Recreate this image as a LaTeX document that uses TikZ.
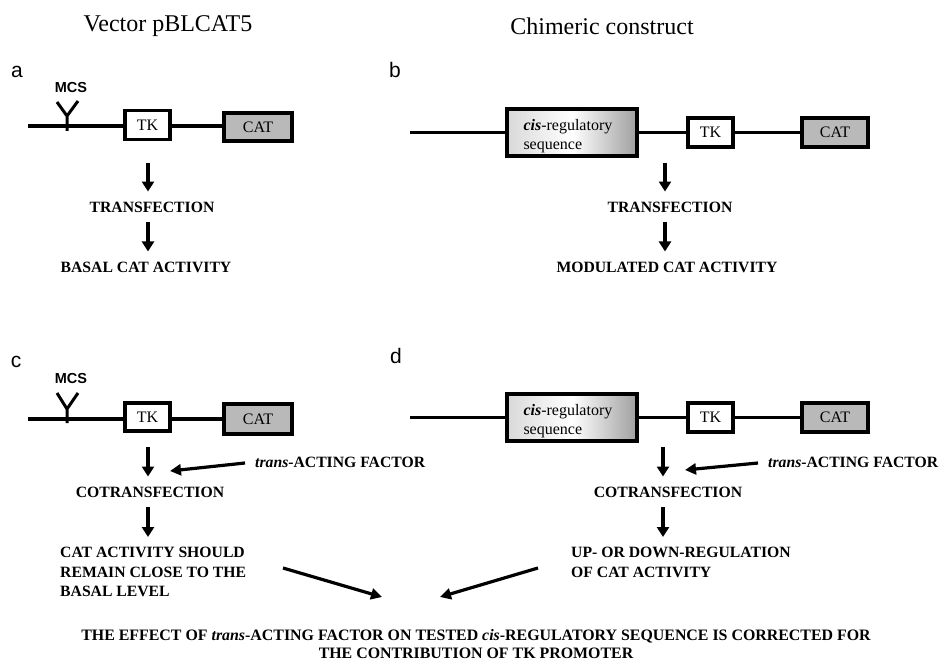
\documentclass[tikz,border=0pt]{standalone}
\usepackage{fontspec}
\setmainfont{Liberation Serif}
\newfontfamily\labfont{Liberation Sans}
\usetikzlibrary{positioning, arrows.meta}

\begin{document}
\begin{tikzpicture}[x=1pt, y=-1pt,
  gene/.style={draw, line width=3.4pt, inner sep=0pt, font=\fontsize{16}{18}\selectfont},
  cisbox/.style={gene, left color=gray!30, right color=gray!75, middle color=white, minimum width=130pt, minimum height=47pt},
  cistxt/.style={inner sep=0pt, anchor=west, align=left, font=\fontsize{16}{19}\selectfont},
  txt/.style={inner sep=4pt, font=\fontsize{15.7}{19.5}\selectfont\bfseries},
  flow/.style={-{Triangle[width=12pt, length=10pt]}, line width=3.4pt, shorten <=6pt, shorten >=6pt},
  slant/.style={-{Triangle[width=11pt, length=11pt]}, line width=3.2pt},
  dna/.style={line width=3.6pt},
  panel/.style={font=\fontsize{21}{21}\selectfont\labfont},
  mcs/.style={font=\fontsize{14.5}{14.5}\selectfont\labfont\bfseries}]
\useasboundingbox (0,0) rectangle (943,660);

% headings
\node[font=\fontsize{24}{24}\selectfont] (hleft) at (168,26) {Vector pBLCAT5};
\node[font=\fontsize{24}{24}\selectfont] (hright) at (602,26) {Chimeric construct};

% panel a
\node[panel] (la) at (17,72) {a};
\node[mcs] (mcsa) at (71,88) {MCS};
\coordinate (sa) at (28,126);
\node[gene, minimum width=45pt, minimum height=29pt] (tka) at (147.5,125) {TK};
\node[gene, fill=gray!55, minimum width=68pt, minimum height=28pt] (cata) at (258,127) {CAT};
\draw[dna] (sa) -- (tka.west |- sa);
\draw[dna] (tka.east |- sa) -- (cata.west |- sa);
\draw[line width=3pt] (67,131) -- (67,116) -- (57,102) (67,116) -- (78,101);
\coordinate (a1) at (148,157);
\node[txt] (atr) at (152,207) {TRANSFECTION};
\node[txt] (abas) at (146,267) {BASAL CAT ACTIVITY};
\draw[flow] (a1) -- (atr.north -| a1);
\draw[flow] (atr.south -| a1) -- (abas.north -| a1);

% panel b
\node[panel] (lb) at (395,70) {b};
\coordinate (sb) at (410,132.5);
\node[cisbox] (cisb) at (572,132.5) {};
\node[cistxt] (cisbt) at ([xshift=18pt, yshift=-4pt]cisb.west) {\textbf{\textit{cis}}-regulatory\\sequence};
\node[gene, minimum width=45pt, minimum height=29pt] (tkb) at (710.5,132.5) {TK};
\node[gene, fill=gray!55, minimum width=66pt, minimum height=29pt] (catb) at (835,132.5) {CAT};
\draw[dna] (sb) -- (cisb.west);
\draw[dna] (cisb.east) -- (tkb.west);
\draw[dna] (tkb.east) -- (catb.west);
\coordinate (b1) at (665,157);
\node[txt] (btr) at (670,207) {TRANSFECTION};
\node[txt] (bmod) at (667,267) {MODULATED CAT ACTIVITY};
\draw[flow] (b1) -- (btr.north -| b1);
\draw[flow] (btr.south -| b1) -- (bmod.north -| b1);

% panel c
\node[panel] (lc) at (16,362) {c};
\node[mcs] (mcsc) at (71,379) {MCS};
\coordinate (sc) at (28,419);
\node[gene, minimum width=45pt, minimum height=28pt] (tkc) at (147.5,417) {TK};
\node[gene, fill=gray!55, minimum width=68pt, minimum height=30pt] (catc) at (258,419) {CAT};
\draw[dna] (sc) -- (tkc.west |- sc);
\draw[dna] (tkc.east |- sc) -- (catc.west |- sc);
\draw[line width=3pt] (67,423) -- (67,409) -- (57,393) (67,409) -- (78,393);
\coordinate (c1) at (148,441);
\node[txt] (cco) at (150,492) {COTRANSFECTION};
\node[txt, anchor=north west, align=left] (cres) at (56,543) {CAT ACTIVITY SHOULD\\REMAIN CLOSE TO THE\\BASAL LEVEL};
\draw[flow] (c1) -- (cco.north -| c1);
\draw[flow] (cco.south -| c1) -- (cres.north -| c1);
\node[txt, anchor=west] (ctr) at (251,462) {\textit{trans}-ACTING FACTOR};
\coordinate (cin) at (170,471);
\draw[slant] (ctr.west) ++(-6,1) -- (cin);

% panel d
\node[panel] (ld) at (396,356) {d};
\coordinate (sd) at (410,417.5);
\node[cisbox] (cisd) at (572,417.5) {};
\node[cistxt] (cisdt) at ([xshift=18pt, yshift=-4pt]cisd.west) {\textbf{\textit{cis}}-regulatory\\sequence};
\node[gene, minimum width=45pt, minimum height=29pt] (tkd) at (710.5,417.5) {TK};
\node[gene, fill=gray!55, minimum width=66pt, minimum height=29pt] (catd) at (835,417.5) {CAT};
\draw[dna] (sd) -- (cisd.west);
\draw[dna] (cisd.east) -- (tkd.west);
\draw[dna] (tkd.east) -- (catd.west);
\coordinate (d1) at (663,441);
\node[txt] (dco) at (668,492) {COTRANSFECTION};
\node[txt, anchor=north west, align=left] (dres) at (567,543) {UP- OR DOWN-REGULATION\\OF CAT ACTIVITY};
\draw[flow] (d1) -- (dco.north -| d1);
\draw[flow] (dco.south -| d1) -- (dres.north -| d1);
\node[txt, anchor=west] (dtr) at (764,462) {\textit{trans}-ACTING FACTOR};
\coordinate (din) at (685,470);
\draw[slant] (dtr.west) ++(-6,1) -- (din);

% conclusion
\node[txt, align=center, font=\fontsize{15.9}{18}\selectfont\bfseries] (effect) at (476,644) {THE EFFECT OF \textit{trans}-ACTING FACTOR ON TESTED \textit{cis}-REGULATORY SEQUENCE IS CORRECTED FOR\\THE CONTRIBUTION OF TK PROMOTER};
\coordinate (cfrom) at (283,568);
\coordinate (cto) at (382,597);
\coordinate (dfrom) at (538,568);
\coordinate (dto) at (440,597);
\draw[slant] (cfrom) -- (cto);
\draw[slant] (dfrom) -- (dto);
\end{tikzpicture}
\end{document}
